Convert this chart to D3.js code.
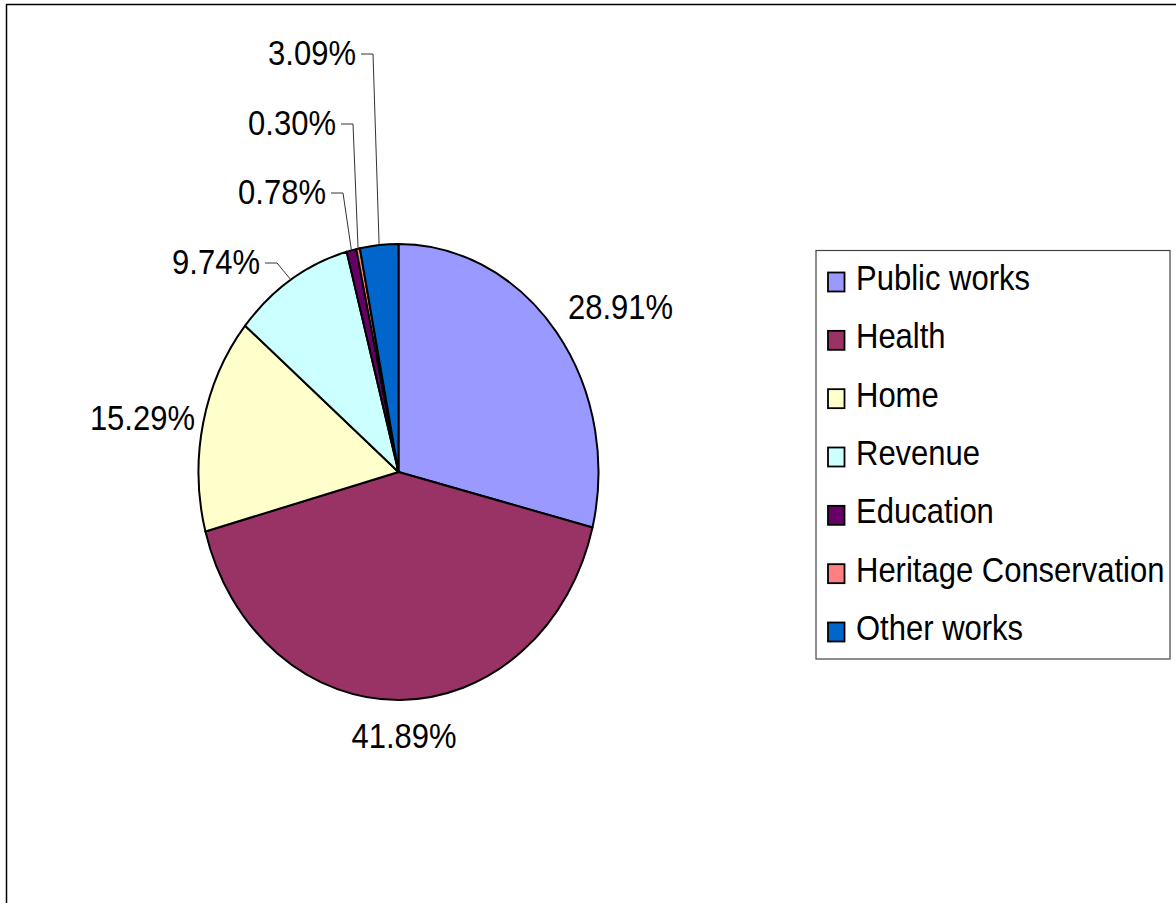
<!DOCTYPE html>
<html>
<head>
<meta charset="utf-8">
<script src="https://cdn.jsdelivr.net/npm/d3@7"></script>
<style>
  html, body { margin: 0; padding: 0; background: #fff; }
  svg { display: block; }
  text { font-family: "Liberation Sans", Arial, sans-serif; fill: #000; }
</style>
</head>
<body>
<svg id="chart" width="1176" height="903"></svg>
<script>
// ---- data ----
const categories = ["Public works", "Health", "Home", "Revenue", "Education", "Heritage Conservation", "Other works"];
const shares = [28.91, 41.89, 15.29, 9.74, 0.78, 0.30, 3.09];
const colors = ["#9999FF", "#993366", "#FFFFCC", "#CCFFFF", "#660066", "#FF8080", "#0066CC"];
const labelText = ["28.91%", "41.89%", "15.29%", "9.74%", "0.78%", "0.30%", "3.09%"];

// ---- layout ----
const W = 1176, H = 903;
const cx = 398.5, cy = 472, rx = 200, sy = 1.14;   // chart is vertically stretched
const fontSize = 31;
// label anchor positions (baseline), anchor and whether it has a leader line
const labelLayout = [
  { x: 568, y: 319, anchor: "start", leader: false },
  { x: 404, y: 748, anchor: "middle", leader: false },
  { x: 195, y: 430, anchor: "end", leader: false },
  { x: 260, y: 274, anchor: "end", leader: true },
  { x: 326, y: 204, anchor: "end", leader: true },
  { x: 336, y: 135, anchor: "end", leader: true },
  { x: 356, y: 65,  anchor: "end", leader: true }
];

const svg = d3.select("#chart");

// outer frame (right/bottom edges fall outside the view)
svg.append("rect")
  .attr("x", 6.5).attr("y", 4.5)
  .attr("width", 1400).attr("height", 1200)
  .attr("fill", "none").attr("stroke", "#000").attr("stroke-width", 1.5);

// ---- pie ----
const data = categories.map((c, i) => ({ name: c, value: shares[i], color: colors[i], label: labelText[i], lay: labelLayout[i] }));
const pie = d3.pie().value(d => d.value).sort(null).startAngle(0).endAngle(2 * Math.PI);
const arcs = pie(data);
const arc = d3.arc().innerRadius(0).outerRadius(rx);

const g = svg.append("g").attr("transform", `translate(${cx},${cy}) scale(1,${sy})`);
g.selectAll("path.slice")
  .data(arcs)
  .join("path")
  .attr("class", "slice")
  .attr("d", arc)
  .attr("fill", d => d.data.color)
  .attr("stroke", "#000")
  .attr("stroke-width", 2)
  .attr("stroke-linejoin", "round")
  .attr("vector-effect", "non-scaling-stroke");

// ---- labels ----
function edgePoint(a) {
  const m = (a.startAngle + a.endAngle) / 2;
  return [cx + rx * Math.sin(m), cy - rx * sy * Math.cos(m)];
}

const labels = svg.append("g");
arcs.forEach(a => {
  const L = a.data.lay;
  const t = labels.append("text")
    .attr("transform", `translate(${L.x},${L.y}) scale(1,${sy})`)
    .attr("text-anchor", L.anchor)
    .attr("font-size", fontSize)
    .text(a.data.label);
  if (L.leader) {
    const [ex, ey] = edgePoint(a);
    const ly = L.y - 11;
    const x0 = L.x + 5, x1 = L.x + 17;
    labels.append("path")
      .attr("d", d3.line()([[x0, ly], [x1, ly], [ex, ey]]))
      .attr("fill", "none")
      .attr("stroke", "#333")
      .attr("stroke-width", 1);
  }
});

// ---- legend ----
const lg = svg.append("g");
lg.append("rect")
  .attr("x", 816).attr("y", 250.5)
  .attr("width", 354).attr("height", 408.5)
  .attr("fill", "#fff").attr("stroke", "#444").attr("stroke-width", 1.2);

const legendY = d3.scalePoint().domain(categories).range([290, 640]);
const items = lg.selectAll("g.item").data(data).join("g").attr("class", "item");
items.append("rect")
  .attr("x", 828).attr("y", d => legendY(d.name) - 17.5)
  .attr("width", 16.5).attr("height", 19)
  .attr("fill", d => d.color)
  .attr("stroke", "#000").attr("stroke-width", 1.8);
items.append("text")
  .attr("transform", d => `translate(856,${legendY(d.name)}) scale(1,${sy})`)
  .attr("font-size", fontSize)
  .text(d => d.name);
</script>
</body>
</html>
